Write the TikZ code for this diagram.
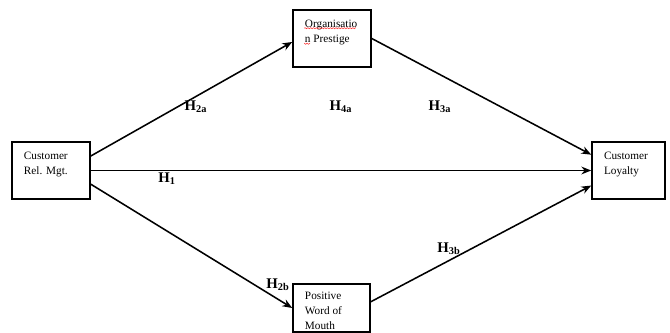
\documentclass[tikz,border=0pt]{standalone}
\usepackage{fontspec}
\setmainfont{Liberation Serif}
\usetikzlibrary{arrows.meta,decorations.pathmorphing}

\begin{document}
\begin{tikzpicture}[
    x=0.025cm, y=-0.025cm,
    line width=1.1pt,
    >={Stealth[length=7pt,width=5.5pt]},
    box/.style={
        rectangle,
        draw=black,
        inner sep=0pt,
        minimum width=1.95cm, minimum height=1.425cm,
      },
    boxtext/.style={
        anchor=north west, inner sep=0pt, align=left,
        xshift=0.3cm, yshift=-0.24cm,
        font=\fontsize{8}{10.7}\selectfont,
      },
    hyp/.style={inner sep=1pt, font=\fontsize{10.5}{12}\selectfont\bfseries},
  ]
  \useasboundingbox (0,0) rectangle (670,333);

  % boxes
  \node[box, label={[boxtext]north west:Customer\\Rel. Mgt.}] (crm) at (51,170.5) {};
  \node[box, label={[boxtext]north west:Organisatio\\n Prestige}] (org) at (332,38.5) {};
  \node[box, minimum width=1.825cm,
    label={[boxtext]north west:Customer\\Loyalty}] (loy) at (628.5,170.5) {};
  \node[box, minimum width=1.925cm, minimum height=1.2cm,
    label={[boxtext, yshift=0.05cm]north west:Positive\\Word of\\Mouth}] (wom) at (331.5,308) {};

  % spell check marks
  \draw[red!80, line width=0.4pt, decorate,
    decoration={snake, amplitude=0.4pt, segment length=2pt}]
    ([shift={(12,19)}]org.north west) -- ++(51,0)
    ([shift={(12,34)}]org.north west) -- ++(6,0);

  % paths
  \draw[->] (crm.20) -- (org.185);
  \draw[->] (org.east) -- (loy.157);
  \draw[->] (crm.east) -- (loy.west);
  \draw[->] (crm.-19) -- (wom.west);
  \draw[->] (wom.9) -- (loy.202);

  % hypotheses
  \node[hyp] (h2a) at (196,107) {H\textsubscript{2a}};
  \node[hyp] (h4a) at (341,107) {H\textsubscript{4a}};
  \node[hyp] (h3a) at (440,107) {H\textsubscript{3a}};
  \node[hyp] (h1) at (167,179) {H\textsubscript{1}};
  \node[hyp] (h2b) at (278,285) {H\textsubscript{2b}};
  \node[hyp] (h3b) at (449,249) {H\textsubscript{3b}};
\end{tikzpicture}
\end{document}
